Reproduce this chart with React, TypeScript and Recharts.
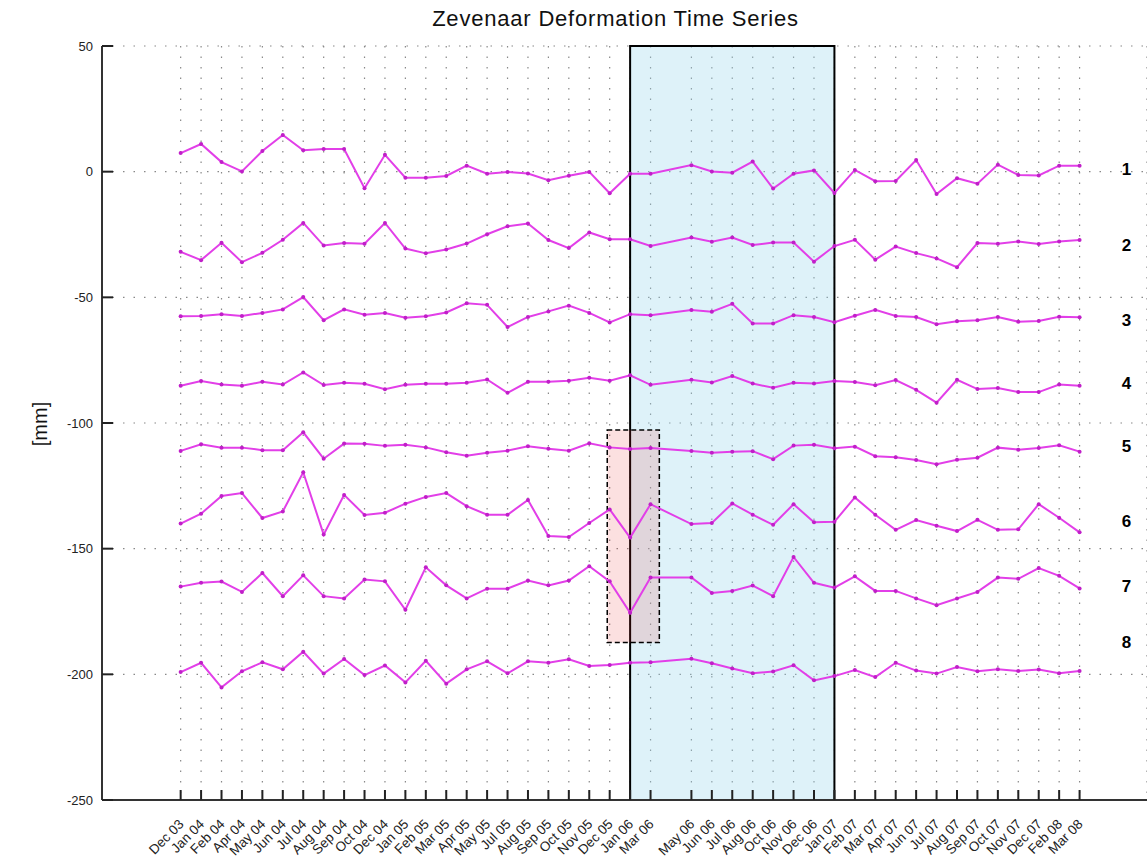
import React from 'react';
import {
  LineChart, Line, XAxis, YAxis, CartesianGrid, ReferenceArea, ReferenceDot
} from 'recharts';

// acquisition dates, and their slot on the (evenly spaced) axis; slot 24 stays empty
const dateLabels = [
  'Dec 03', 'Jan 04', 'Feb 04', 'Apr 04', 'May 04', 'Jun 04', 'Jul 04', 'Aug 04', 'Sep 04', 'Oct 04',
  'Dec 04', 'Jan 05', 'Feb 05', 'Mar 05', 'Apr 05', 'May 05', 'Jul 05', 'Aug 05', 'Sep 05', 'Oct 05',
  'Nov 05', 'Dec 05', 'Jan 06', 'Mar 06', 'May 06', 'Jun 06', 'Jul 06', 'Aug 06', 'Oct 06', 'Nov 06',
  'Dec 06', 'Jan 07', 'Feb 07', 'Mar 07', 'Apr 07', 'Jun 07', 'Jul 07', 'Aug 07', 'Sep 07', 'Oct 07',
  'Nov 07', 'Dec 07', 'Feb 08', 'Mar 08'
];
const slots = [
  0, 1, 2, 3, 4, 5, 6, 7, 8, 9, 10, 11, 12, 13, 14, 15, 16, 17, 18, 19, 20, 21, 22, 23,
  25, 26, 27, 28, 29, 30, 31, 32, 33, 34, 35, 36, 37, 38, 39, 40, 41, 42, 43, 44
];

// deformation per point [mm], one array per time series
const series1 = [
  7.4, 11.0, 3.8, 0.1, 8.2, 14.6, 8.5, 9.0, 9.0, -6.6, 6.7, -2.4, -2.4, -1.7, 2.4, -0.8, -0.1, -0.7, -3.4, -1.6,
  -0.1, -8.6, -0.8, -0.8, 2.6, 0.1, -0.4, 4.0, -6.7, -0.8, 0.5, -8.5, 0.7, -3.8, -3.7, 4.6, -8.9, -2.6, -4.8, 2.8,
  -1.3, -1.5, 2.4, 2.4
];
const series2 = [
  -31.9, -35.2, -28.3, -36.0, -32.3, -27.1, -20.4, -29.4, -28.4, -28.7, -20.4, -30.6, -32.5, -31.0, -28.6, -24.9, -21.7, -20.6, -27.2, -30.4,
  -24.2, -26.9, -26.9, -29.6, -26.2, -27.9, -26.2, -29.2, -28.2, -28.2, -35.8, -29.6, -27.1, -35.0, -29.8, -32.4, -34.5, -38.0, -28.4, -28.7,
  -27.8, -28.8, -27.8, -27.2
];
const series3 = [
  -57.5, -57.4, -56.7, -57.4, -56.2, -54.8, -49.9, -59.1, -54.8, -56.9, -56.2, -58.1, -57.5, -56.0, -52.4, -53.0, -61.8, -57.8, -55.6, -53.3,
  -56.2, -60.0, -56.7, -57.1, -55.0, -55.7, -52.6, -60.4, -60.4, -57.1, -57.8, -59.9, -57.3, -55.0, -57.4, -57.8, -60.7, -59.5, -59.1, -57.8,
  -59.7, -59.4, -57.7, -57.9
];
const series4 = [
  -85.2, -83.3, -84.7, -85.2, -83.6, -84.7, -79.9, -84.9, -84.0, -84.4, -86.6, -84.8, -84.4, -84.4, -84.0, -82.7, -88.0, -83.6, -83.6, -83.2,
  -82.0, -83.2, -81.0, -84.8, -82.8, -83.9, -81.3, -84.3, -86.0, -84.0, -84.3, -83.3, -83.7, -85.0, -82.9, -86.8, -91.9, -82.8, -86.5, -86.1,
  -87.7, -87.7, -84.7, -85.2
];
const series5 = [
  -111.1, -108.5, -109.8, -109.8, -110.8, -110.8, -103.7, -114.2, -108.2, -108.3, -109.1, -108.7, -109.7, -111.6, -113.0, -111.8, -111.0, -109.3, -110.2, -111.0,
  -108.1, -109.7, -110.3, -109.9, -111.1, -111.8, -111.4, -111.2, -114.4, -109.0, -108.7, -110.0, -109.4, -113.2, -113.6, -114.7, -116.4, -114.6, -113.8, -109.8,
  -110.6, -109.9, -108.9, -111.4
];
const series6 = [
  -140.0, -136.1, -129.0, -127.9, -137.8, -135.2, -119.6, -144.4, -128.6, -136.6, -135.7, -132.1, -129.4, -127.9, -133.1, -136.5, -136.5, -130.6, -145.0, -145.4,
  -139.8, -134.4, -145.6, -132.3, -140.2, -139.8, -132.0, -136.5, -140.5, -132.3, -139.5, -139.3, -129.6, -136.5, -142.5, -138.6, -140.9, -143.0, -138.5, -142.5,
  -142.3, -132.3, -137.7, -143.5
];
const series7 = [
  -165.1, -163.6, -163.1, -167.2, -159.7, -168.9, -160.6, -168.9, -169.8, -162.3, -163.0, -174.3, -157.4, -164.6, -169.8, -165.9, -165.9, -162.7, -164.6, -162.7,
  -157.0, -163.0, -175.5, -161.5, -161.5, -167.6, -166.8, -164.7, -168.9, -153.3, -163.6, -165.5, -161.0, -166.8, -166.8, -169.8, -172.5, -169.8, -167.2, -161.5,
  -162.0, -157.7, -160.8, -165.8
];
const series8 = [
  -199.1, -195.4, -205.2, -198.8, -195.2, -198.0, -191.0, -199.7, -193.9, -200.3, -196.5, -203.2, -194.6, -203.7, -198.0, -194.8, -199.6, -194.8, -195.4, -194.0,
  -196.7, -196.3, -195.4, -195.2, -193.8, -195.6, -197.7, -199.6, -198.9, -196.4, -202.4, -200.7, -198.3, -201.1, -195.4, -198.5, -199.7, -197.1, -198.8, -198.0,
  -198.7, -198.1, -199.6, -198.7
];

const seriesNames = ['1', '2', '3', '4', '5', '6', '7', '8'];
const seriesLabelY = [1, -29, -59, -84, -109, -139, -165, -187];
const yTicks = [50, 0, -50, -100, -150, -200, -250];

const allSeries = [series1, series2, series3, series4, series5, series6, series7, series8];

const data = slots.map((slot, i) => {
  const row: any = { slot, date: dateLabels[i] };
  allSeries.forEach((s, k) => { row[`s${k + 1}`] = s[i]; });
  return row;
});

const labelBySlot: Record<number, string> = {};
slots.forEach((s, i) => { labelBySlot[s] = dateLabels[i]; });

const FONT = '"Liberation Sans", Arial, sans-serif';
const LINE_COLOR = '#e23fe8';
const DOT_COLOR = '#c01fc8';

// x ticks point into the plot, labels slanted below
const DateTick = (props: any) => {
  const { x, y, payload } = props;
  const ax = x + 4;
  const ay = y + 25;
  return (
    <g>
      <line x1={x} y1={y} x2={x} y2={y - 10} stroke="#222" strokeWidth={2} />
      <text
        x={ax}
        y={ay}
        textAnchor="end"
        fontSize={13.5}
        fontFamily={FONT}
        fill="#222"
        transform={`rotate(-45, ${ax}, ${ay})`}
      >
        {labelBySlot[payload.value]}
      </text>
    </g>
  );
};

const ValueTick = (props: any) => {
  const { x, y, payload } = props;
  return (
    <g>
      <line x1={x} y1={y} x2={x + 11} y2={y} stroke="#222" strokeWidth={2} />
      <text x={x - 9} y={y} dy="0.35em" textAnchor="end" fontSize={13} fontFamily={FONT} fill="#222">
        {payload.value}
      </text>
    </g>
  );
};

const App: React.FC = () => {
  return (
    <div style={{ position: 'absolute', left: 0, top: 0, width: 1147, height: 859, background: '#fff', fontFamily: FONT }}>
      <div
        style={{
          position: 'absolute', left: 102, width: 1027, top: 6, textAlign: 'center',
          fontSize: 22, letterSpacing: 0.8, color: '#111'
        }}
      >
        Zevenaar Deformation Time Series
      </div>
      <div
        style={{
          position: 'absolute', left: 40, top: 424, fontSize: 20, color: '#111',
          transform: 'translate(-50%, -50%) rotate(-90deg)', whiteSpace: 'nowrap'
        }}
      >
        [mm]
      </div>
      <LineChart
        width={1147}
        height={859}
        data={data}
        margin={{ top: 46, right: 0, left: 0, bottom: 0 }}
      >
        <CartesianGrid stroke="#888" strokeDasharray="1.5 9" strokeWidth={1.2} />
        <XAxis
          type="number"
          dataKey="slot"
          domain={[-3.85, 47.3]}
          ticks={slots}
          interval={0}
          allowDataOverflow
          height={59}
          tickSize={0}
          tickMargin={0}
          tickLine={false}
          tick={<DateTick />}
          axisLine={{ stroke: '#333', strokeWidth: 2 }}
        />
        <YAxis
          type="number"
          domain={[-250, 50]}
          ticks={yTicks}
          interval={0}
          width={102}
          tickSize={0}
          tickMargin={0}
          tickLine={false}
          tick={<ValueTick />}
          axisLine={{ stroke: '#333', strokeWidth: 2 }}
        />
        <ReferenceArea
          x1={22}
          x2={32}
          y1={-250}
          y2={50}
          fill="#9ad8ee"
          fillOpacity={0.33}
          stroke="#000"
          strokeWidth={2}
        />
        <ReferenceArea
          x1={20.88}
          x2={23.43}
          y1={-187.3}
          y2={-102.8}
          fill="#e83030"
          fillOpacity={0.15}
          stroke="#000"
          strokeWidth={1.5}
          strokeDasharray="5 3"
        />
        {seriesNames.map((name) => (
          <Line
            key={name}
            type="linear"
            dataKey={`s${name}`}
            stroke={LINE_COLOR}
            strokeWidth={2}
            dot={{ r: 2, fill: DOT_COLOR, stroke: 'none' }}
            activeDot={false}
            isAnimationActive={false}
          />
        ))}
        {seriesNames.map((name, i) => (
          <ReferenceDot
            key={`lbl${name}`}
            x={46.3}
            y={seriesLabelY[i]}
            r={0}
            fill="none"
            stroke="none"
            label={{ value: name, position: 'center', fontSize: 17, fontWeight: 'bold', fill: '#000', fontFamily: FONT }}
          />
        ))}
      </LineChart>
    </div>
  );
};

export default App;
